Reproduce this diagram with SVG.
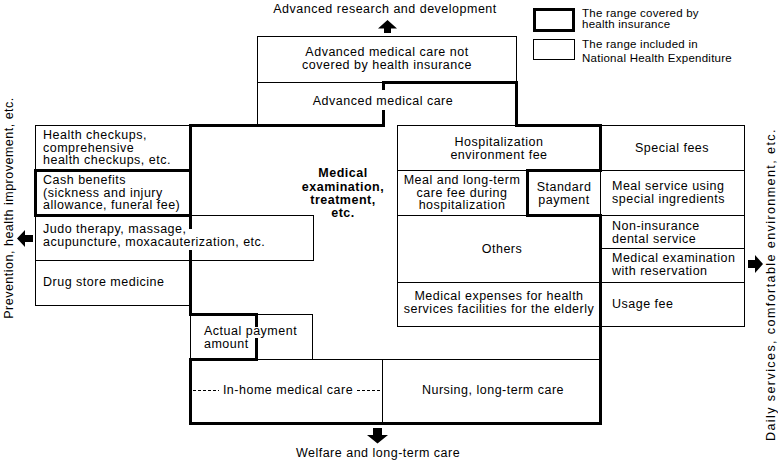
<svg xmlns="http://www.w3.org/2000/svg" width="778" height="460" viewBox="0 0 778 460">
<style>
  .thin{fill:none;stroke:#000;stroke-width:1}
  .thick{fill:none;stroke:#000;stroke-width:3;stroke-linejoin:miter}
  .mask{fill:#fff;stroke:none}
  .arrow{fill:#000;stroke:none}
  text{font-family:"Liberation Sans",Arial,Helvetica,sans-serif;font-size:12.5px;letter-spacing:0.5px;fill:#000}
  .c{text-anchor:middle}
  .b{font-weight:bold;letter-spacing:0.5px}
  .lg{font-size:11.5px;letter-spacing:0.25px}
</style>
<rect x="0" y="0" width="778" height="460" fill="#fff"/>

<!-- thin boxes -->
<g id="adv-not-covered"><rect class="thin" x="257.5" y="36.5" width="259" height="46"/></g>
<g id="adv-care"><line class="thin" x1="257.5" y1="82.5" x2="257.5" y2="125.5"/></g>
<g id="health-checkups"><rect class="thin" x="35.5" y="125.5" width="155" height="45"/></g>
<g id="judo"><rect class="thin" x="35.5" y="215.5" width="278" height="45"/></g>
<g id="drug"><rect class="thin" x="35.5" y="260.5" width="155" height="45"/></g>
<g id="actual-payment"><rect class="thin" x="190.5" y="314.5" width="122" height="45"/></g>
<g id="hospitalization"><rect class="thin" x="397.5" y="125.5" width="203" height="45"/></g>
<g id="meal"><rect class="thin" x="397.5" y="170.5" width="130" height="45"/></g>
<g id="others"><rect class="thin" x="397.5" y="215.5" width="203" height="67"/></g>
<g id="elderly"><rect class="thin" x="397.5" y="282.5" width="203" height="44"/></g>
<g id="right-column">
  <rect class="thin" x="600.5" y="125.5" width="144" height="201"/>
  <line class="thin" x1="600.5" y1="170.5" x2="744.5" y2="170.5"/>
  <line class="thin" x1="600.5" y1="215.5" x2="744.5" y2="215.5"/>
  <line class="thin" x1="600.5" y1="248.5" x2="744.5" y2="248.5"/>
  <line class="thin" x1="600.5" y1="282.5" x2="744.5" y2="282.5"/>
</g>
<g id="bottom-boxes">
  <rect class="thin" x="190.5" y="359.5" width="410" height="64"/>
  <line class="thin" x1="382.5" y1="359.5" x2="382.5" y2="423.5"/>
</g>

<!-- health insurance range -->
<g id="insurance-range">
  <path class="thick" d="M190.5,125.5 H383.5 V82.5 H516.5 V125.5 H600.5 V170.5 H527.5 V215.5 H600.5 V423.5 H190.5 V359.5 H256.5 V314.5 H190.5 Z"/>
  <rect class="thick" x="35.5" y="170.5" width="155" height="45"/>
</g>

<!-- text backgrounds -->
<rect class="mask" x="312" y="90" width="143" height="20"/>
<rect class="mask" x="42" y="229" width="224" height="21"/>
<rect class="mask" x="203" y="327" width="95" height="11"/>

<!-- labels -->
<g id="t-adv-not-covered"><text class="c" x="387" y="56">Advanced medical care not</text><text class="c" x="387" y="68.5">covered by health insurance</text></g>
<g id="t-adv-care"><text class="c" x="383" y="105">Advanced medical care</text></g>
<g id="t-health-checkups"><text x="43" y="139">Health checkups,</text><text x="43" y="151.5">comprehensive</text><text x="43" y="164">health checkups, etc.</text></g>
<g id="t-cash"><text x="43" y="184">Cash benefits</text><text x="43" y="196.5">(sickness and injury</text><text x="43" y="209">allowance, funeral fee)</text></g>
<g id="t-judo"><text x="43" y="233">Judo therapy, massage,</text><text x="43" y="246">acupuncture, moxacauterization, etc.</text></g>
<g id="t-drug"><text x="43" y="286">Drug store medicine</text></g>
<g id="t-medical"><text class="c b" x="343" y="177">Medical</text><text class="c b" x="343" y="190.5">examination,</text><text class="c b" x="343" y="204">treatment,</text><text class="c b" x="343" y="217">etc.</text></g>
<g id="t-hosp"><text class="c" x="499" y="145.5">Hospitalization</text><text class="c" x="499" y="158.5">environment fee</text></g>
<g id="t-meal"><text class="c" x="462" y="184">Meal and long-term</text><text class="c" x="462" y="196.5">care fee during</text><text class="c" x="462" y="209">hospitalization</text></g>
<g id="t-standard"><text class="c" x="564" y="190.5">Standard</text><text class="c" x="564" y="203.5">payment</text></g>
<g id="t-others"><text class="c" x="502" y="253">Others</text></g>
<g id="t-elderly"><text class="c" x="499" y="300">Medical expenses for health</text><text class="c" x="499" y="313">services facilities for the elderly</text></g>
<g id="t-special"><text class="c" x="672" y="152">Special fees</text></g>
<g id="t-meal-special"><text x="612" y="189.5">Meal service using</text><text x="612" y="202.5">special ingredients</text></g>
<g id="t-dental"><text x="612" y="230">Non-insurance</text><text x="612" y="243">dental service</text></g>
<g id="t-reservation"><text x="612" y="262">Medical examination</text><text x="612" y="275">with reservation</text></g>
<g id="t-usage"><text x="612" y="308">Usage fee</text></g>
<g id="t-actual"><text x="204" y="335">Actual payment</text><text x="204" y="348">amount</text></g>
<g id="t-inhome">
  <line x1="193" y1="390.5" x2="219" y2="390.5" stroke="#000" stroke-width="1" stroke-dasharray="3,2"/>
  <text class="c" x="288" y="394">In-home medical care</text>
  <line x1="357" y1="390.5" x2="381" y2="390.5" stroke="#000" stroke-width="1" stroke-dasharray="3,2"/>
</g>
<g id="t-nursing"><text class="c" x="493" y="394">Nursing, long-term care</text></g>

<!-- directions -->
<g id="dir-top"><polygon class="arrow" points="387.5,20 397,28.5 391,28.5 391,33 384,33 384,28.5 378,28.5"/><text class="c" x="385" y="13">Advanced research and development</text></g>
<g id="dir-bottom"><polygon class="arrow" points="373,428 382,428 382,435 388,435 377.5,443.5 367,435 373,435"/><text class="c" x="378" y="457">Welfare and long-term care</text></g>
<g id="dir-left"><polygon class="arrow" points="17,238.5 25,230 25,235 33,235 33,242 25,242 25,247"/><text class="c" transform="translate(13,208) rotate(-90)">Prevention, health improvement, etc.</text></g>
<g id="dir-right"><polygon class="arrow" points="748,260 755,260 755,255 763,264 755,273 755,268 748,268"/><text class="c" transform="translate(775,285) rotate(-90)" textLength="312" lengthAdjust="spacing">Daily services, comfortable environment, etc.</text></g>

<!-- legend -->
<g id="legend">
  <rect x="534.5" y="9.5" width="39" height="21" fill="none" stroke="#000" stroke-width="3"/>
  <rect class="thin" x="533.5" y="39.5" width="41" height="20"/>
  <text class="lg" x="582" y="16.5">The range covered by</text>
  <text class="lg" x="582" y="28">health insurance</text>
  <text class="lg" x="582" y="48">The range included in</text>
  <text class="lg" x="582" y="62">National Health Expenditure</text>
</g>
</svg>
